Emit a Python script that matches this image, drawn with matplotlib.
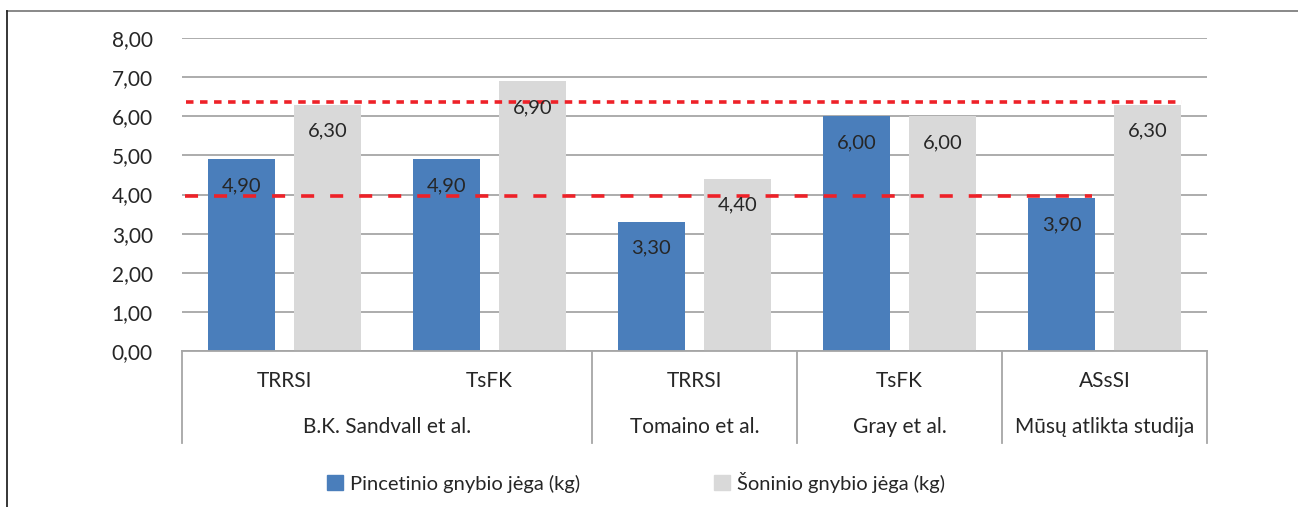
import matplotlib
matplotlib.use("Agg")
import matplotlib.pyplot as plt
import matplotlib.transforms as mtransforms
from matplotlib.lines import Line2D
from matplotlib.patches import Patch

plt.rcParams["font.family"] = ["Lato", "DejaVu Sans"]
plt.rcParams["lines.scale_dashes"] = False

# data
methods = ["TRRSI", "TsFK", "TRRSI", "TsFK", "ASsSI"]
groups = ["B.K. Sandvall et al.", "Tomaino et al.", "Gray et al.", "Mūsų atlikta studija"]
group_spans = [(0, 1), (2, 2), (3, 3), (4, 4)]
pinch = [4.90, 4.90, 3.30, 6.00, 3.90]
lateral = [6.30, 6.90, 4.40, 6.00, 6.30]
series_names = ["Pincetinio gnybio jėga (kg)", "Šoninio gnybio jėga (kg)"]
ref_lateral = 6.36
ref_pinch = 3.95
ref_lateral_span = (-0.48, 4.38)
ref_pinch_span = (-0.485, 3.94)

BLUE = "#4A7EBB"
GRAY = "#D9D9D9"
RED = "#EE2128"
TEXT = "#262626"
FS = 15

fig = plt.figure(figsize=(12.98, 5.07), dpi=100)
ax = fig.add_axes([0.1402, 0.3077, 0.7897, 0.6173])

x = range(len(methods))
w = 0.33
off = 0.21
ax.bar([i - off for i in x], pinch, width=w, color=BLUE, zorder=2)
ax.bar([i + off for i in x], lateral, width=w, color=GRAY, zorder=2)

for i in x:
    ax.annotate(f"{pinch[i]:.2f}".replace(".", ","), (i - off, pinch[i]),
                xytext=(0, -19), textcoords="offset points",
                ha="center", va="center", fontsize=14.5, color=TEXT, zorder=5)
    ax.annotate(f"{lateral[i]:.2f}".replace(".", ","), (i + off, lateral[i]),
                xytext=(0, -19), textcoords="offset points",
                ha="center", va="center", fontsize=14.5, color=TEXT, zorder=5)

ax.plot(ref_lateral_span, [ref_lateral] * 2, color=RED, lw=2.6,
        dashes=(5.4, 4.7), zorder=4)
ax.plot(ref_pinch_span, [ref_pinch] * 2, color=RED, lw=2.6,
        dashes=(9.4, 11.5), zorder=4)

ax.set_xlim(-0.5, len(methods) - 0.5)
ax.set_ylim(0, 8)
ax.set_yticks(range(0, 9))
ax.set_yticklabels([f"{v:.2f}".replace(".", ",") for v in range(0, 9)],
                   fontsize=FS, color=TEXT)
ax.tick_params(axis="y", length=0, pad=21)
ax.set_xticks([])
ax.grid(axis="y", color="#A6A6A6", lw=1.3, zorder=0)
for s in ["top", "right", "left"]:
    ax.spines[s].set_visible(False)
ax.spines["bottom"].set_color("#A6A6A6")
ax.spines["bottom"].set_linewidth(1.3)

# multi-level category axis
trans = mtransforms.blended_transform_factory(ax.transData, ax.transAxes)
for i, m in enumerate(methods):
    ax.text(i, -0.097, m, transform=trans, ha="center", va="center",
            fontsize=FS, color=TEXT)
for g, (a, b) in zip(groups, group_spans):
    ax.text((a + b) / 2, -0.244, g, transform=trans, ha="center", va="center",
            fontsize=FS, color=TEXT)
bounds = [group_spans[0][0] - 0.5] + [b + 0.5 for _, b in group_spans]
for bx in bounds:
    ax.plot([bx, bx], [0, -0.294], transform=trans, color="#A6A6A6",
            lw=1.3, clip_on=False)

handles = [Patch(color=BLUE), Patch(color=GRAY)]
fig.legend(handles, series_names, loc="center", bbox_to_anchor=(0.49, 0.049),
           ncol=2, frameon=False, fontsize=14.5, handlelength=0.8,
           handleheight=0.8, handletextpad=0.35, columnspacing=6.6,
           labelcolor=TEXT)

# outer frame (top and left edges)
fig.add_artist(Line2D([0.0054, 1], [0.978, 0.978], color="#7F7F7F", lw=1.3))
fig.add_artist(Line2D([0.0054, 0.0054], [0, 0.978], color="#262626", lw=1.3))

fig.savefig("out.png", dpi=100)
